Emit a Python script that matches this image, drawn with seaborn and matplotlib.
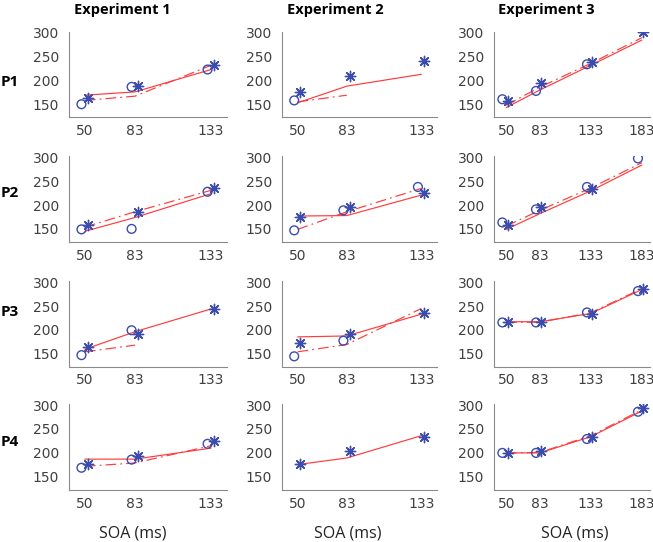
import numpy as np
import pandas as pd
import seaborn as sns
import matplotlib
matplotlib.use("Agg")
import matplotlib.pyplot as plt

# ---------------- data ----------------
soa_exp12 = [50, 83, 133]
soa_exp3 = [50, 83, 133, 183]
participants = ["P1", "P2", "P3", "P4"]
experiments = ["Experiment 1", "Experiment 2", "Experiment 3"]
yticks = [150, 200, 250, 300]
nan = np.nan

# Experiment 1 (rows P1..P4)
exp1_circle = [[150, 186.5, 223], [149, 150, 228], [146.5, 199, nan], [169, 186, 219]]
exp1_star = [[164, 188, 232], [158, 184.5, 235], [163, 192, 244], [177, 194, 225]]
exp1_solid = [[169, 176, 223], [145, 174, 224], [159, 196, 244], [187, 187, 210]]
exp1_dashdot = [[158, 167, 232], [154, 186, 231], [153.5, 167.6, nan], [172, 179, 215]]

# Experiment 2
exp2_circle = [[158, nan, nan], [147, 189, 238], [144, 177, nan], [nan, nan, nan]]
exp2_star = [[175, 209, 241], [175, 195, 226], [172.5, 191, 236], [177, 203, 233]]
exp2_solid = [[153, 188, 213], [177, 178, 221], [185, 187, 233], [175.6, 189.4, 236]]
exp2_dashdot = [[155, 169, nan], [149, 186, 235], [153.5, 169, 245], [nan, nan, nan]]

# Experiment 3
exp3_circle = [[160.5, 178, 234, nan], [163.5, 191, 238, 298],
               [215.5, 215.5, 236.6, 281.7], [200, 200, 229, 286]]
exp3_star = [[157, 195, 238, 303], [159, 195, 233, nan],
             [216, 216, 233, 287], [200, 205, 233, 293]]
exp3_solid = [[143, 180, 232, 285], [149, 182, 230, 284],
              [217, 217, 234.5, 285], [200, 200, 234, 287.6]]
exp3_dashdot = [[148, 186, 236, 290], [156, 189, 236, 289],
                [216, 216, 236, 287], [200, 201, 236, 290]]

exp_data = [
    (soa_exp12, exp1_circle, exp1_star, exp1_solid, exp1_dashdot),
    (soa_exp12, exp2_circle, exp2_star, exp2_solid, exp2_dashdot),
    (soa_exp3, exp3_circle, exp3_star, exp3_solid, exp3_dashdot),
]

# ---------------- style ----------------
sns.set_theme(style="white")
plt.rcParams["font.family"] = ["DejaVu Sans"]

BLUE = "#3b4cad"
RED = "#ff3b3b"
SPINE = "#8a8a8a"
TICKC = "#404040"

W, H = 653, 542
fig = plt.figure(figsize=(W / 100, H / 100), dpi=100)

# axes pixel geometry
col_px = [(69, 158), (282, 155), (494, 156)]
row_px = [(31.5, 117.3), (156, 242), (281, 366.5), (403.6, 490)]
xlims = [(39.5, 143.5), (39.5, 143.5), (38, 191)]
ylim = (122.5, 303)
# marker horizontal jitter (data units) per experiment: circle left, star right
jit = [(-2.3, 1.8), (-2.3, 1.8), (-3.8, 1.5)]

for ci, (soa, circ, star, solid, dd) in enumerate(exp_data):
    for ri in range(4):
        x0, w = col_px[ci]
        top, bot = row_px[ri]
        ax = fig.add_axes([x0 / W, 1 - bot / H, w / W, (bot - top) / H])

        df_lines = pd.concat([
            pd.DataFrame({"soa": soa, "rt": solid[ri], "kind": "fit"}),
            pd.DataFrame({"soa": soa, "rt": dd[ri], "kind": "fit2"}),
        ]).dropna()
        if len(df_lines):
            sns.lineplot(data=df_lines, x="soa", y="rt", style="kind",
                         dashes={"fit": "", "fit2": (9, 3.5, 1.5, 3.5)},
                         style_order=["fit", "fit2"],
                         color=RED, linewidth=0.85, estimator=None, sort=False,
                         legend=False, ax=ax)

        dfc = pd.DataFrame({"soa": np.array(soa) + jit[ci][0], "rt": circ[ri]}).dropna()
        if len(dfc):
            sns.scatterplot(data=dfc, x="soa", y="rt", marker="o", s=40,
                            facecolors="none", edgecolors=BLUE, linewidth=1.0,
                            legend=False, ax=ax, zorder=3)
        dfs = pd.DataFrame({"soa": np.array(soa) + jit[ci][1], "rt": star[ri]}).dropna()
        if len(dfs):
            sns.scatterplot(data=dfs, x="soa", y="rt", marker=(8, 2, 0), s=55,
                            color=BLUE, linewidth=1.0, legend=False, ax=ax, zorder=4)

        ax.set_xlim(*xlims[ci])
        ax.set_ylim(*ylim)
        ax.set_xticks(soa)
        ax.set_xticklabels([str(v) for v in soa])
        ax.set_yticks(yticks)
        ax.set_xlabel("")
        ax.set_ylabel("")
        for s in ["top", "right"]:
            ax.spines[s].set_visible(False)
        for s in ["left", "bottom"]:
            ax.spines[s].set_color(SPINE)
            ax.spines[s].set_linewidth(0.8)
        ax.tick_params(axis="both", length=0, labelsize=10, colors=TICKC)
        ax.tick_params(axis="x", pad=5)
        ax.tick_params(axis="y", pad=7)
        ax.set_facecolor("white")

# column titles
title_x = [122, 335, 546]
for t, xp in zip(experiments, title_x):
    fig.text(xp / W, 1 - 10 / H, t, ha="center", va="center",
             fontsize=10.5, fontweight="bold", family=["Open Sans", "DejaVu Sans"],
             color="black")

# row labels
row_label_y = [82, 193, 312, 442]
for p, yp in zip(participants, row_label_y):
    fig.text(1 / W, 1 - yp / H, p, ha="left", va="center",
             fontsize=11, fontweight="bold", family=["Open Sans", "DejaVu Sans"],
             color="black")

# x axis labels
xlab_x = [133, 348, 575]
for xp in xlab_x:
    fig.text(xp / W, 1 - 533 / H, "SOA (ms)", ha="center", va="center",
             fontsize=11.5, family=["Open Sans", "DejaVu Sans"], color="#222222")

fig.savefig("out.png", dpi=100, facecolor="white")
